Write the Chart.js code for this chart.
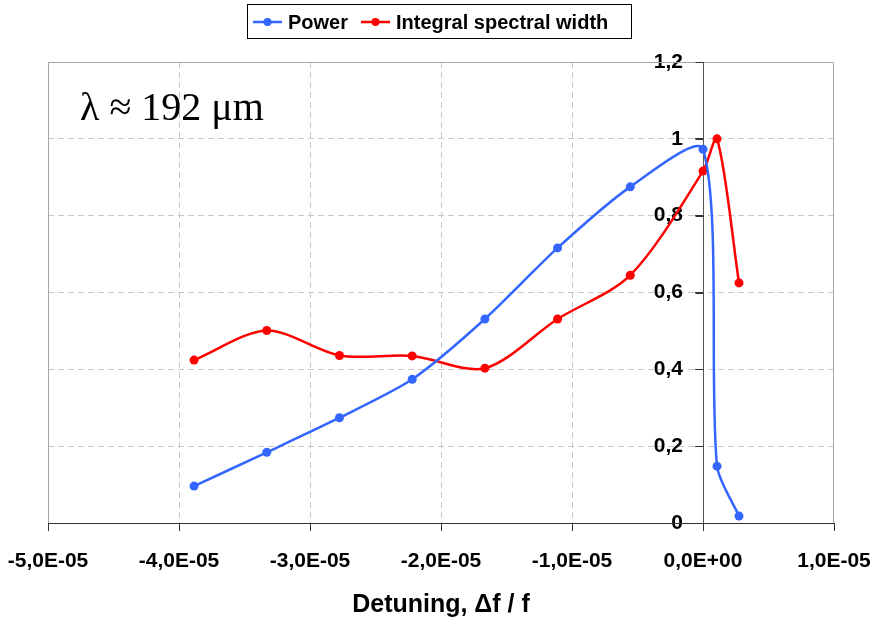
<!DOCTYPE html>
<html>
<head>
<meta charset="utf-8">
<script src="https://cdn.jsdelivr.net/npm/chart.js@4/dist/chart.umd.min.js"></script>
<style>
  html, body { margin: 0; padding: 0; background: #ffffff; }
  #wrap { width: 878px; height: 622px; position: relative; }
</style>
</head>
<body>
<div id="wrap"><canvas id="c" width="878" height="622"></canvas></div>
<script>
// ---- data ----
const detuning = [-3.885e-5, -3.33e-5, -2.775e-5, -2.22e-5, -1.665e-5, -1.11e-5, -0.555e-5, 0, 1.07e-6, 2.75e-6];
const powerValues = [0.096, 0.184, 0.274, 0.374, 0.531, 0.716, 0.875, 0.973, 0.148, 0.018];
const widthValues = [0.424, 0.501, 0.436, 0.435, 0.403, 0.531, 0.645, 0.916, 1.0, 0.625];
const seriesNames = ['Power', 'Integral spectral width'];
const xTicks = [-5e-5, -4e-5, -3e-5, -2e-5, -1e-5, 0, 1e-5];
const yTicks = [0, 0.2, 0.4, 0.6, 0.8, 1.0, 1.2];
const annotationText = 'λ ≈ 192 μm';
const xTitle = 'Detuning, Δf / f';

const BLUE = '#3366FF';
const RED = '#FF0000';

function fmtX(v) {
  if (Math.abs(v) < 1e-12) return '0,0E+00';
  const s = v.toExponential(1);
  const parts = s.split('e');
  const m = parts[0].replace('.', ',');
  let e = parseInt(parts[1], 10);
  const sign = e < 0 ? '-' : '+';
  e = Math.abs(e);
  return m + 'E' + sign + (e < 10 ? '0' + e : String(e));
}
function fmtY(v) {
  const r = Math.round(v * 10) / 10;
  return String(r).replace('.', ',');
}
function near(a, b) { return Math.abs(a - b) < 1e-9 * Math.max(1, Math.abs(b)) + 1e-12; }

const frameAndText = {
  id: 'frameAndText',
  beforeDatasetsDraw(chart) {
    const { ctx, chartArea: a } = chart;
    ctx.save();
    ctx.strokeStyle = '#a6a6a6';
    ctx.lineWidth = 1;
    ctx.beginPath();
    ctx.moveTo(a.left + 0.5, a.bottom);
    ctx.lineTo(a.left + 0.5, a.top + 0.5);
    ctx.lineTo(a.right - 0.5, a.top + 0.5);
    ctx.lineTo(a.right - 0.5, a.bottom);
    ctx.stroke();
    const xs = chart.scales.x, ys = chart.scales.y;
    const x0 = Math.round(xs.getPixelForValue(0)) + 0.5;
    ctx.strokeStyle = '#555555';
    ctx.beginPath();
    ctx.moveTo(x0, a.top);
    ctx.lineTo(x0, a.bottom);
    ctx.stroke();
    // y tick marks to the left of the y axis
    ctx.strokeStyle = '#333333';
    ctx.beginPath();
    yTicks.forEach(v => {
      const py = Math.round(ys.getPixelForValue(v)) + 0.5;
      ctx.moveTo(x0 - 8, py);
      ctx.lineTo(x0, py);
    });
    ctx.stroke();
    ctx.strokeStyle = '#333333';
    ctx.beginPath();
    const y0 = Math.round(ys.getPixelForValue(0)) + 0.5;
    ctx.moveTo(a.left, y0);
    ctx.lineTo(a.right, y0);
    ctx.stroke();
    ctx.fillStyle = '#000000';
    ctx.font = '40px "Liberation Serif", "Times New Roman", serif';
    ctx.textAlign = 'left';
    ctx.textBaseline = 'alphabetic';
    ctx.fillText(annotationText, 80, 120);
    ctx.restore();
  },
  afterDraw(chart) {
    const { ctx } = chart;
    ctx.save();
    const bx = 247, by = 4, bw = 384, bh = 34;
    ctx.fillStyle = '#ffffff';
    ctx.fillRect(bx, by, bw, bh);
    ctx.strokeStyle = '#000000';
    ctx.lineWidth = 1;
    ctx.strokeRect(bx + 0.5, by + 0.5, bw, bh);
    const cy = 22;
    const items = [
      { color: BLUE, name: seriesNames[0], x: 253 },
      { color: RED, name: seriesNames[1], x: 361 }
    ];
    ctx.font = 'bold 20px "Liberation Sans", Arial, sans-serif';
    ctx.textBaseline = 'middle';
    ctx.textAlign = 'left';
    items.forEach(it => {
      ctx.strokeStyle = it.color;
      ctx.lineWidth = 2.5;
      ctx.beginPath();
      ctx.moveTo(it.x, cy);
      ctx.lineTo(it.x + 29, cy);
      ctx.stroke();
      ctx.fillStyle = it.color;
      ctx.beginPath();
      ctx.arc(it.x + 14.5, cy, 4, 0, Math.PI * 2);
      ctx.fill();
      ctx.fillStyle = '#000000';
      ctx.fillText(it.name, it.x + 35, cy + 1);
    });
    ctx.restore();
  }
};

// shift y-axis labels (axis placed at x = 0) to the left of the tick marks
function shiftYLabels(scale) {
  if (scale._patchedLabels) return;
  const orig = scale._computeLabelItems;
  if (typeof orig !== 'function') return;
  scale._computeLabelItems = function (ca) {
    const items = orig.call(this, ca);
    items.forEach(it => {
      if (it && it.options && Array.isArray(it.options.translation)) {
        it.options.translation[0] -= 20;
      }
    });
    return items;
  };
  scale._patchedLabels = true;
}

const ctx = document.getElementById('c').getContext('2d');
new Chart(ctx, {
  type: 'line',
  data: {
    datasets: [
      {
        label: seriesNames[0],
        data: detuning.map((x, i) => ({ x: x, y: powerValues[i] })),
        borderColor: BLUE,
        backgroundColor: BLUE,
        borderWidth: 2.5,
        pointRadius: 4.5,
        pointBorderWidth: 0,
        tension: 0.26,
        fill: false
      },
      {
        label: seriesNames[1],
        data: detuning.map((x, i) => ({ x: x, y: widthValues[i] })),
        borderColor: RED,
        backgroundColor: RED,
        borderWidth: 2.5,
        pointRadius: 4.5,
        pointBorderWidth: 0,
        tension: 0.3,
        fill: false
      }
    ]
  },
  options: {
    responsive: false,
    animation: false,
    devicePixelRatio: 1,
    layout: { padding: { left: 48, right: 44, top: 62, bottom: 0 } },
    plugins: { legend: { display: false }, tooltip: { enabled: false }, title: { display: false } },
    scales: {
      x: {
        type: 'linear',
        position: 'bottom',
        min: -5e-5,
        max: 1e-5,
        afterBuildTicks: (s) => { s.ticks = xTicks.map(v => ({ value: v })); },
        afterFit: (s) => { s.height = 99; s.paddingLeft = 0; s.paddingRight = 0; },
        ticks: {
          callback: (v) => fmtX(v),
          font: { family: '"Liberation Sans", Arial, sans-serif', size: 21, weight: 'bold' },
          color: '#000000',
          padding: 18,
          maxRotation: 0,
          autoSkip: false
        },
        grid: {
          color: (c) => {
            const v = c.tick ? c.tick.value : null;
            if (v === null || near(v, -5e-5) || near(v, 0) || near(v, 1e-5)) return 'rgba(0,0,0,0)';
            return '#c8c8c8';
          },
          lineWidth: 1,
          tickColor: '#333333',
          tickBorderDash: [],
          tickLength: 8,
          drawTicks: true
        },
        border: { display: true, color: '#333333', width: 1, dash: [6, 4] },
        title: {
          display: true,
          text: xTitle,
          color: '#000000',
          font: { family: '"Liberation Sans", Arial, sans-serif', size: 25, weight: 'bold' },
          padding: { top: 0, bottom: 2 }
        }
      },
      y: {
        type: 'linear',
        position: { x: 0 },
        min: 0,
        max: 1.2,
        afterBuildTicks: (s) => { s.ticks = yTicks.map(v => ({ value: v })); },
        afterUpdate: (s) => shiftYLabels(s),
        ticks: {
          callback: (v) => fmtY(v),
          font: { family: '"Liberation Sans", Arial, sans-serif', size: 21, weight: 'bold' },
          color: '#000000',
          padding: 12
        },
        grid: {
          color: (c) => {
            const v = c.tick ? c.tick.value : null;
            if (v === null || near(v, 0) || near(v, 1.2)) return 'rgba(0,0,0,0)';
            return '#c8c8c8';
          },
          lineWidth: 1,
          tickColor: '#333333',
          tickBorderDash: [],
          tickLength: 8,
          drawTicks: true
        },
        border: { display: true, color: '#555555', width: 1, dash: [6, 4] }
      }
    }
  },
  plugins: [frameAndText]
});
</script>
</body>
</html>
